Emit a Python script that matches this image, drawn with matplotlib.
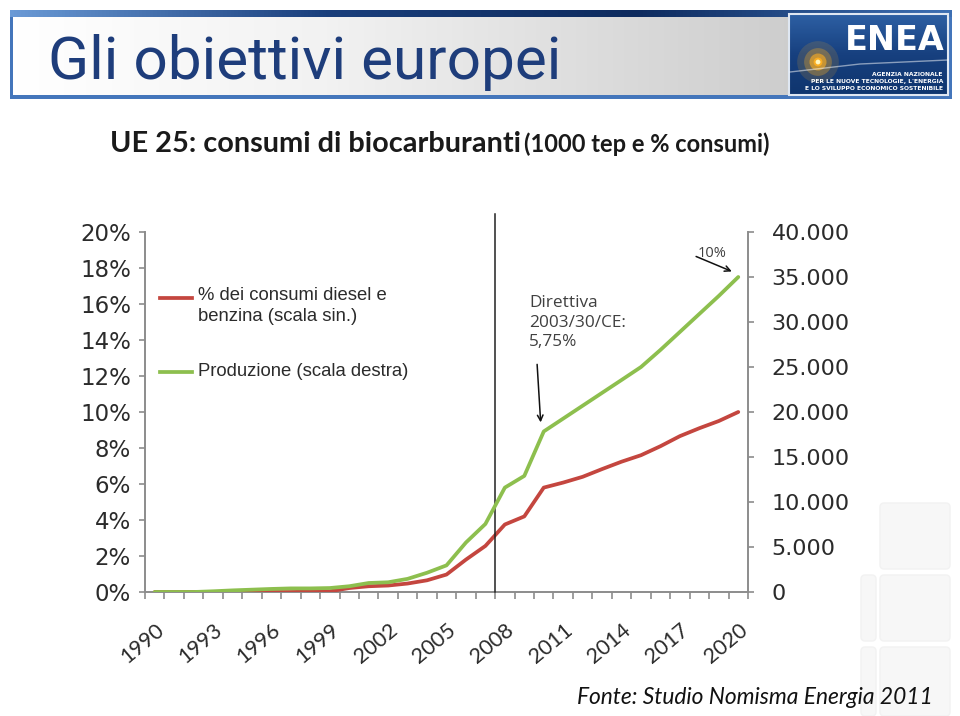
import numpy as np
import matplotlib
matplotlib.use("Agg")
import matplotlib.pyplot as plt
from matplotlib import font_manager
from matplotlib.patches import Rectangle, FancyBboxPatch
from matplotlib.colors import LinearSegmentedColormap

# data (UE 25, biocarburanti)
years = list(range(1990, 2021))
pct_consumi = [0, 0, 0, 0, 0, 0, 0, 0, 0.02, 0.04, 0.22, 0.32, 0.36, 0.47, 0.65, 0.97,
               1.8, 2.56, 3.75, 4.2, 5.8, 6.08, 6.4, 6.83, 7.24, 7.6, 8.1, 8.66, 9.1, 9.5, 10.0]
produzione = [0, 0, 0, 80, 180, 260, 340, 400, 400, 440, 640, 1000, 1080, 1460, 2140, 2960,
              5500, 7560, 11600, 12900, 17840, 19270, 20700, 22130, 23560, 25000,
              26900, 28900, 30900, 32900, 35000]
left_ticks = [0, 2, 4, 6, 8, 10, 12, 14, 16, 18, 20]
left_labels = ["0%", "2%", "4%", "6%", "8%", "10%", "12%", "14%", "16%", "18%", "20%"]
right_ticks = [0, 5000, 10000, 15000, 20000, 25000, 30000, 35000, 40000]
right_labels = ["0", "5.000", "10.000", "15.000", "20.000", "25.000", "30.000", "35.000", "40.000"]
year_labels = list(range(1990, 2021, 3))

RED = "#c4463f"
GREEN = "#8dbf4e"
TXT = "#2b2b2b"

names = {f.name for f in font_manager.fontManager.ttflist}
title_font = "Liberation Sans Narrow" if "Liberation Sans Narrow" in names else "Roboto"

fig = plt.figure(figsize=(9.6, 7.16), dpi=100)
fig.patch.set_facecolor("white")

# --- slide background / banner, in pixel coordinates
bg = fig.add_axes([0, 0, 1, 1])
bg.set_xlim(0, 960)
bg.set_ylim(716, 0)
bg.axis("off")

bg.add_patch(Rectangle((10, 10), 942, 89, facecolor="#4476bb", edgecolor="none"))
top_cmap = LinearSegmentedColormap.from_list("top", ["#6a9ad6", "#1a3f7c", "#0e2b5e", "#3d6fb3"])
bg.imshow(np.linspace(0, 1, 256)[None, :], cmap=top_cmap, aspect="auto",
          extent=(10, 952, 17, 10), zorder=1)
inner_cmap = LinearSegmentedColormap.from_list("inner", ["#ffffff", "#f2f2f2", "#d9d9d9", "#c2c2c2"])
bg.imshow(np.linspace(0, 1, 256)[None, :], cmap=inner_cmap, aspect="auto",
          extent=(13, 949, 95, 17), zorder=1)
logo_cmap = LinearSegmentedColormap.from_list("logo", ["#2d5fa3", "#17407f", "#0f356e"])
bg.imshow(np.linspace(0, 1, 64)[:, None], cmap=logo_cmap, aspect="auto",
          extent=(789, 948, 95, 14), zorder=2)
bg.add_patch(Rectangle((789, 14), 159, 81, facecolor="none", edgecolor="#dfe7f2", lw=1.5, zorder=3))
for s, a in [(900, 0.15), (400, 0.3), (150, 0.6), (40, 0.9)]:
    bg.scatter([818], [62], s=s, color="#ffb020", alpha=a, edgecolors="none", zorder=3)
bg.scatter([818], [62], s=12, color="#fff6c0", edgecolors="none", zorder=4)
bg.plot([790, 860, 948], [72, 64, 60], color="white", alpha=0.5, lw=1, zorder=3)
bg.text(895, 41, "ENEA", color="white", fontsize=24, fontweight="bold", family="DejaVu Sans",
        ha="center", va="center", zorder=4)
for yy, line in [(74, "AGENZIA NAZIONALE"), (81, "PER LE NUOVE TECNOLOGIE, L'ENERGIA"),
                 (88.5, "E LO SVILUPPO ECONOMICO SOSTENIBILE")]:
    bg.text(943, yy, line, color="white", fontsize=4.3, fontweight="bold", ha="right",
            va="center", zorder=4)

bg.text(48, 79, "Gli obiettivi europei", color="#1e3d7b", fontsize=43.5, family=title_font,
        ha="left", va="baseline", zorder=4)

# faint decorative squares bottom right
for (x0, y0, w, h) in [(880, 503, 70, 66), (880, 575, 70, 66), (880, 647, 70, 69),
                       (861, 575, 15, 66), (861, 647, 15, 69)]:
    bg.add_patch(FancyBboxPatch((x0, y0), w, h, boxstyle="round,pad=0,rounding_size=4",
                                facecolor="#f7f7f7", edgecolor="#f2f2f2", lw=1, zorder=0))

bg.text(110, 152, "UE 25: consumi di biocarburanti", fontsize=20.8, fontweight="bold",
        family="Lato", color="#1a1a1a", ha="left", va="baseline")
bg.text(524, 152, "(1000 tep e % consumi)", fontsize=17, fontweight="bold",
        family="Lato", color="#1a1a1a", ha="left", va="baseline")

bg.text(577, 704, "Fonte: Studio Nomisma Energia 2011", fontsize=16.4, fontstyle="italic",
        family="Lato", color="#111111", ha="left", va="baseline")

# --- chart
ax = fig.add_axes([145 / 960, 1 - 592 / 716, 603 / 960, 360 / 716])
ax.patch.set_alpha(0)
ax2 = ax.twinx()

ax.plot(years, pct_consumi, color=RED, lw=2.7, solid_capstyle="round", zorder=3)
ax2.plot(years, produzione, color=GREEN, lw=2.7, solid_capstyle="round", zorder=3)

ax.set_xlim(1989.5, 2020.5)
ax.set_ylim(0, 20)
ax2.set_ylim(0, 40000)

for a in (ax, ax2):
    for sp in a.spines.values():
        sp.set_visible(False)
ax.spines["left"].set_visible(True)
ax.spines["bottom"].set_visible(True)
ax2.spines["right"].set_visible(True)
for sp in (ax.spines["left"], ax.spines["bottom"], ax2.spines["right"]):
    sp.set_color("#8c8c8c")
    sp.set_linewidth(1.4)

ax.set_yticks(left_ticks)
ax.set_yticklabels(left_labels)
ax.tick_params(axis="y", direction="out", length=4, width=1.2, color="#8c8c8c",
               labelsize=16.5, labelcolor=TXT, pad=6)
ax2.set_yticks(right_ticks)
ax2.set_yticklabels(right_labels)
ax2.tick_params(axis="y", direction="out", length=4, width=1.2, color="#8c8c8c",
                labelsize=16, labelcolor=TXT, pad=13)

ax.set_xticks(year_labels)
ax.set_xticklabels([str(y) for y in year_labels], rotation=40, ha="right", va="top",
                   rotation_mode="anchor", fontsize=15.5, family="Lato", color=TXT)
ax.tick_params(axis="x", length=0, pad=20)
ax.set_xticks(np.arange(1989.5, 2021, 1), minor=True)
ax.tick_params(axis="x", which="minor", direction="out", length=5, width=1.2, color="#8c8c8c")

# directive line
ax.plot([2007.5, 2007.5], [0, 21], color="#222222", lw=1.1, clip_on=False, zorder=4)

# legend (manual, as in the original)
bg.plot([160, 192], [298, 298], color=RED, lw=2.7)
bg.text(198, 287, "% dei consumi diesel e\nbenzina (scala sin.)", fontsize=13.3, color=TXT,
        ha="left", va="top", linespacing=1.3, family="Liberation Sans")
bg.plot([160, 192], [372, 372], color=GREEN, lw=2.7)
bg.text(198, 372, "Produzione (scala destra)", fontsize=13.3, color=TXT,
        ha="left", va="center", family="Liberation Sans")

# annotations
ax2.text(2009.25, 33000, "Direttiva\n2003/30/CE:\n5,75%", fontsize=12.4, color="#404040",
         family="Open Sans", ha="left", va="top", linespacing=1.3)
ax2.annotate("", xy=(2009.85, produzione[20] + 700), xytext=(2009.65, 25600),
             arrowprops=dict(arrowstyle="->", color="#111111", lw=1.1))
ax2.text(2017.9, 37600, "10%", fontsize=10.5, color="#404040", family="Open Sans",
         ha="left", va="center")
ax2.annotate("", xy=(2019.8, 35500), xytext=(2017.7, 37400),
             arrowprops=dict(arrowstyle="->", color="#111111", lw=1.1))

fig.savefig("out.png", dpi=100)
